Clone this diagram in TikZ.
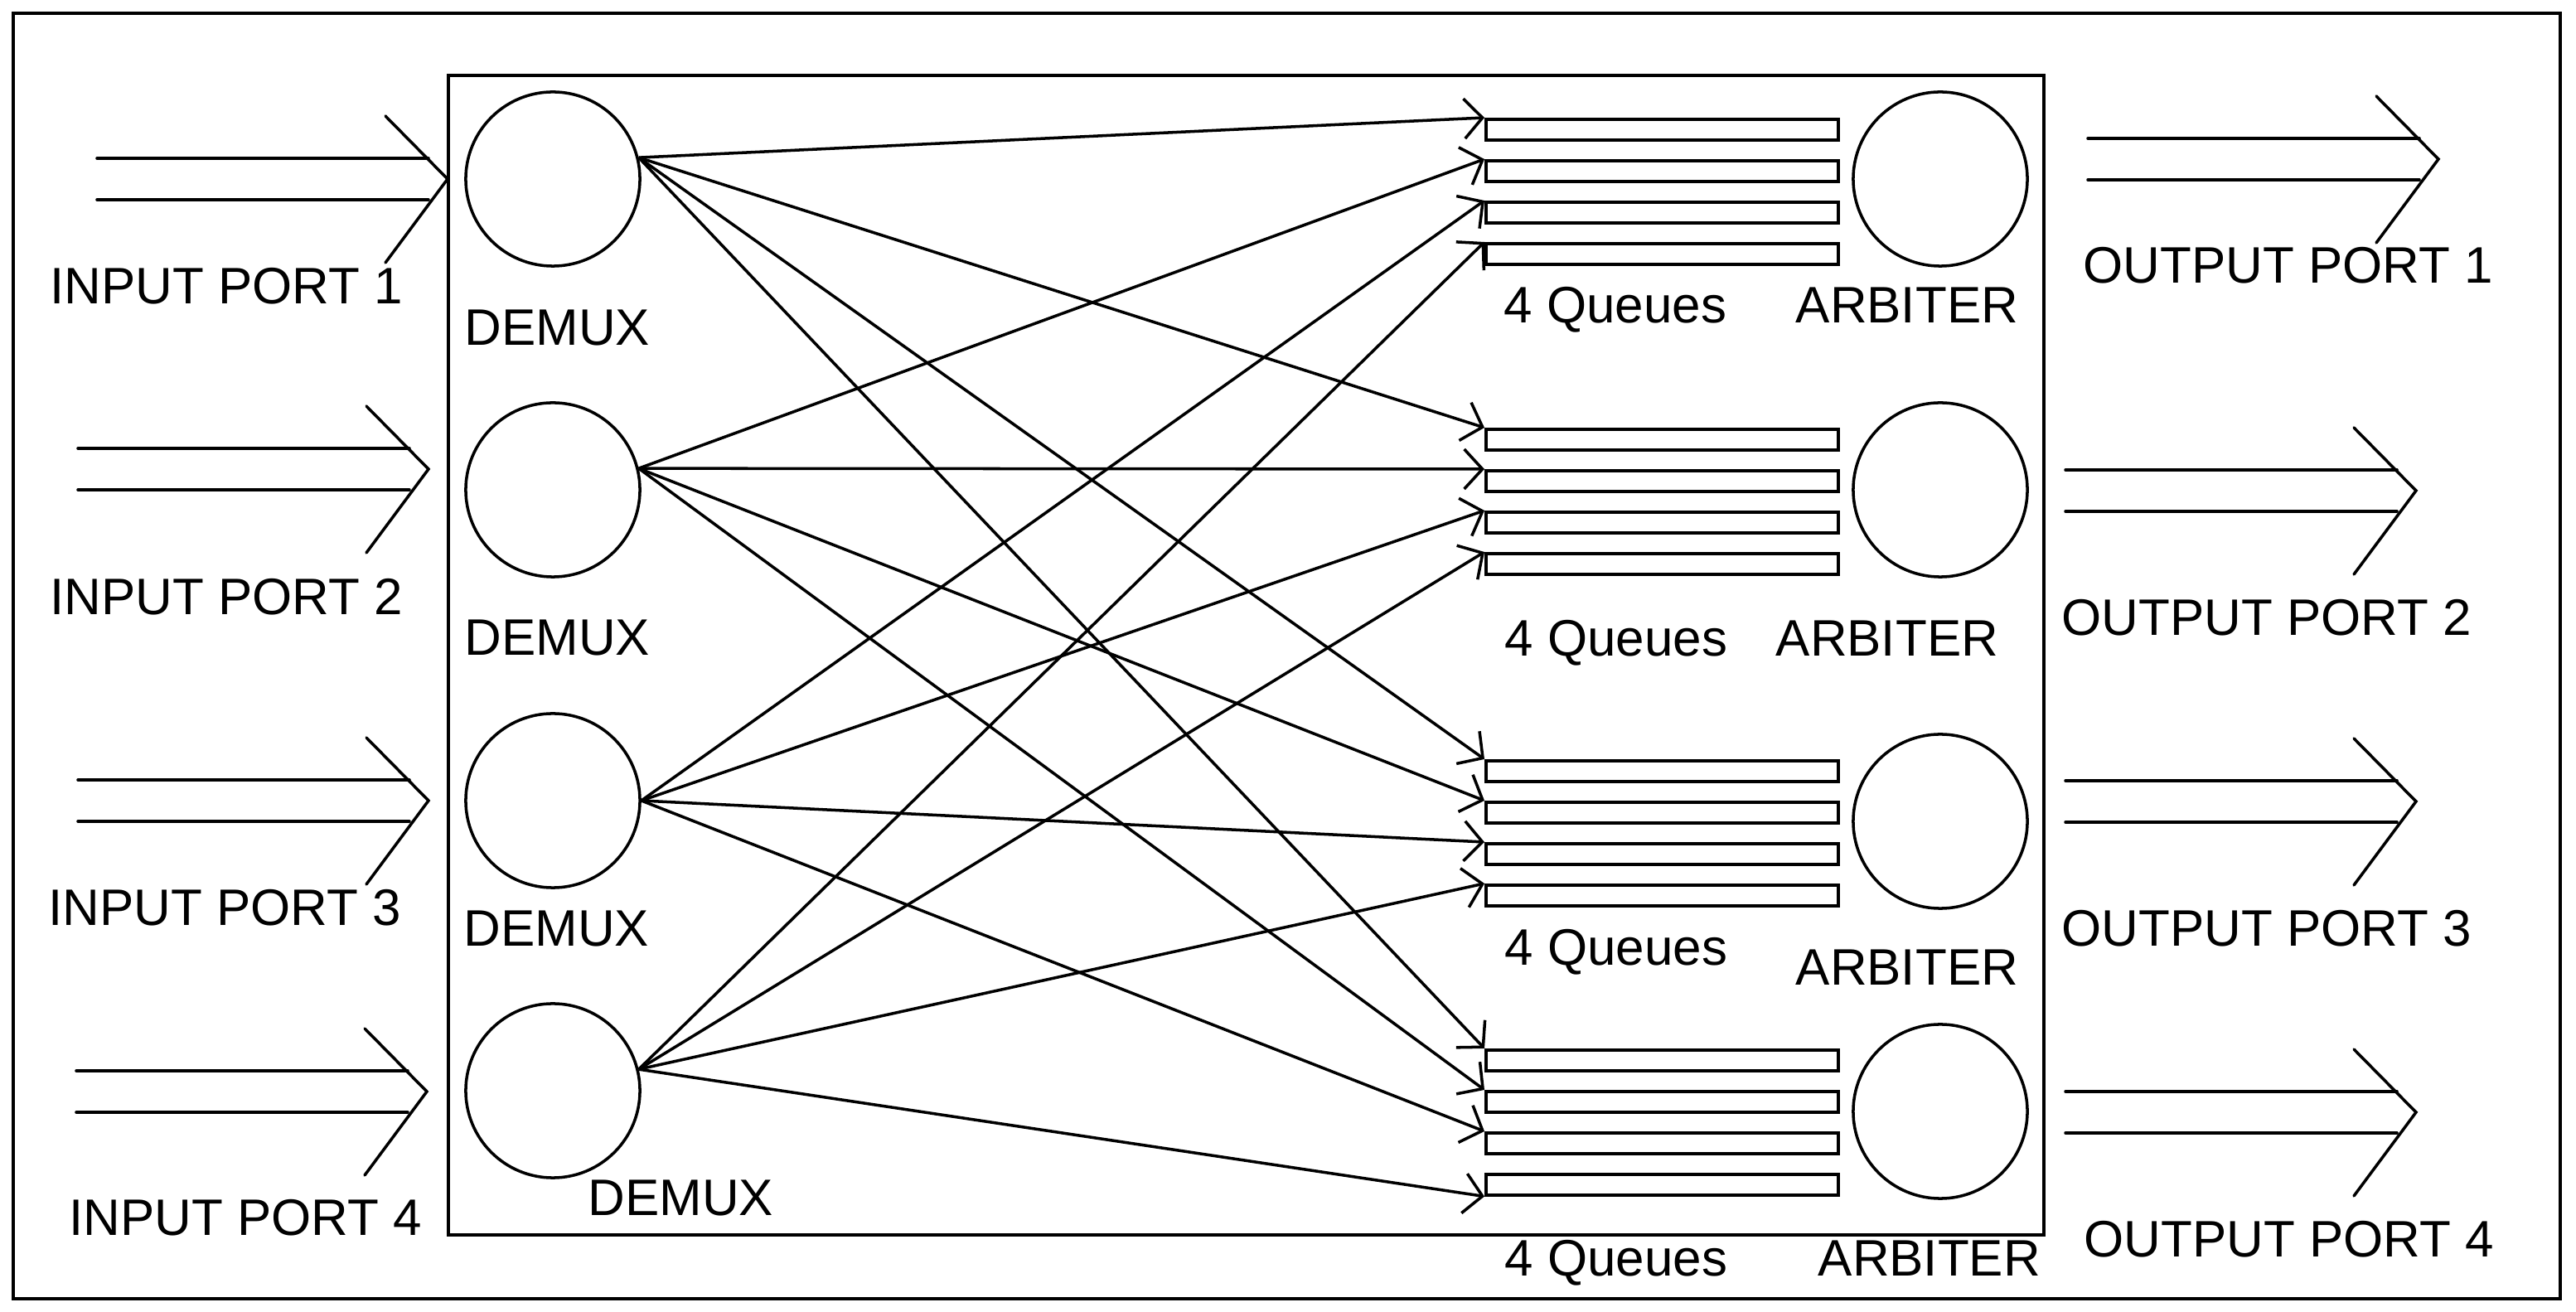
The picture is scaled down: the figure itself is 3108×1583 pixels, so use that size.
\documentclass[tikz,border=0pt]{standalone}
\usepackage{fontspec}
\setmainfont{Liberation Sans}
\usetikzlibrary{positioning, calc, arrows.meta}

\begin{document}
\begin{tikzpicture}[x=0.01cm, y=-0.01cm, every node/.style={font=\fontsize{17.6}{20}\selectfont}]
    \tikzstyle{demux} = [draw, circle, minimum size=2.1cm, inner sep=0pt, line width=1pt]
    \tikzstyle{queue} = [draw, rectangle, minimum width=4.25cm, minimum height=0.25cm, inner sep=0pt, line width=1pt, anchor=north west]
    \tikzstyle{txt} = [anchor=base west, inner sep=0pt]
    \tikzstyle{link} = [line width=1pt, -{Straight Barb[length=2.2mm, width=4.8mm]}]
    \tikzstyle{port} = [line width=1pt, line cap=round]

    \useasboundingbox (0,0) rectangle (3108,1583);

    % Frames
    \draw[line width=1.2pt] (16,16) rectangle (3089,1567);
    \draw[line width=1pt] (541,91) rectangle (2466,1490);

    % DEMUX units
    \node (d1) [demux] at (667,216) {};
    \node (d2) [demux] at (667,591) {};
    \node (d3) [demux] at (667,966) {};
    \node (d4) [demux] at (667,1316) {};

    % Arbiters
    \node (a1) [demux] at (2341,216) {};
    \node (a2) [demux] at (2341,591) {};
    \node (a3) [demux] at (2341,991) {};
    \node (a4) [demux] at (2341,1341) {};

    % Queues (group, input)
    \node (q11) [queue] at (1791,142) {};
    \node (q12) [queue] at (1791,192) {};
    \node (q13) [queue] at (1791,242) {};
    \node (q14) [queue] at (1791,292) {};
    \node (q21) [queue] at (1791,516) {};
    \node (q22) [queue] at (1791,566) {};
    \node (q23) [queue] at (1791,616) {};
    \node (q24) [queue] at (1791,666) {};
    \node (q31) [queue] at (1791,916) {};
    \node (q32) [queue] at (1791,966) {};
    \node (q33) [queue] at (1791,1016) {};
    \node (q34) [queue] at (1791,1066) {};
    \node (q41) [queue] at (1791,1265) {};
    \node (q42) [queue] at (1791,1315) {};
    \node (q43) [queue] at (1791,1365) {};
    \node (q44) [queue] at (1791,1415) {};

    % Labels
    \node (in1) [txt] at (60,367) {INPUT PORT 1};
    \node (in2) [txt] at (60,742) {INPUT PORT 2};
    \node (in3) [txt] at (58,1117) {INPUT PORT 3};
    \node (in4) [txt] at (83,1491) {INPUT PORT 4};
    \node (dl1) [txt] at (560,417) {DEMUX};
    \node (dl2) [txt] at (560,791) {DEMUX};
    \node (dl3) [txt] at (559,1142) {DEMUX};
    \node (dl4) [txt] at (709,1467) {DEMUX};
    \node (ql1) [txt] at (1814,390) {4 Queues};
    \node (ql2) [txt] at (1815,792) {4 Queues};
    \node (ql3) [txt] at (1815,1165) {4 Queues};
    \node (ql4) [txt] at (1815,1540) {4 Queues};
    \node (al1) [txt] at (2166,390) {ARBITER};
    \node (al2) [txt] at (2142,792) {ARBITER};
    \node (al3) [txt] at (2166,1189) {ARBITER};
    \node (al4) [txt] at (2193,1540) {ARBITER};
    \node (out1) [txt] at (2513,342) {OUTPUT PORT 1};
    \node (out2) [txt] at (2487,767) {OUTPUT PORT 2};
    \node (out3) [txt] at (2487,1142) {OUTPUT PORT 3};
    \node (out4) [txt] at (2514,1517) {OUTPUT PORT 4};

    % Port arrows
    \coordinate (ip1) at (540,216);
    \coordinate (ip2) at (517,566);
    \coordinate (ip3) at (517,966);
    \coordinate (ip4) at (515,1317);
    \coordinate (op1) at (2942,192);
    \coordinate (op2) at (2915,592);
    \coordinate (op3) at (2915,967);
    \coordinate (op4) at (2915,1342);
    \foreach \p in {ip1,ip2,ip3,ip4,op1,op2,op3,op4} {
        \draw[port] ($(\p)+(-423,-25)$) -- ++(400,0);
        \draw[port] ($(\p)+(-423,25)$) -- ++(400,0);
        \draw[port] ($(\p)+(-75,-76)$) -- (\p) -- ++(-75,101);
    }

    % Crossbar links
    \draw[link] (d1.14) -- (q11.north west);
    \draw[link] (d1.14) -- (q21.north west);
    \draw[link] (d1.14) -- (q31.north west);
    \draw[link] (d1.14) -- (q41.north west);
    \draw[link] (d2.14) -- (q12.north west);
    \draw[link] (d2.14) -- (q22.north west);
    \draw[link] (d2.14) -- (q32.north west);
    \draw[link] (d2.14) -- (q42.north west);
    \draw[link] (d3.east) -- (q13.north west);
    \draw[link] (d3.east) -- (q23.north west);
    \draw[link] (d3.east) -- (q33.north west);
    \draw[link] (d3.east) -- (q43.north west);
    \draw[link] (d4.14) -- (q14.north west);
    \draw[link] (d4.14) -- (q24.north west);
    \draw[link] (d4.14) -- (q34.north west);
    \draw[link] (d4.14) -- (q44.south west);
\end{tikzpicture}
\end{document}
